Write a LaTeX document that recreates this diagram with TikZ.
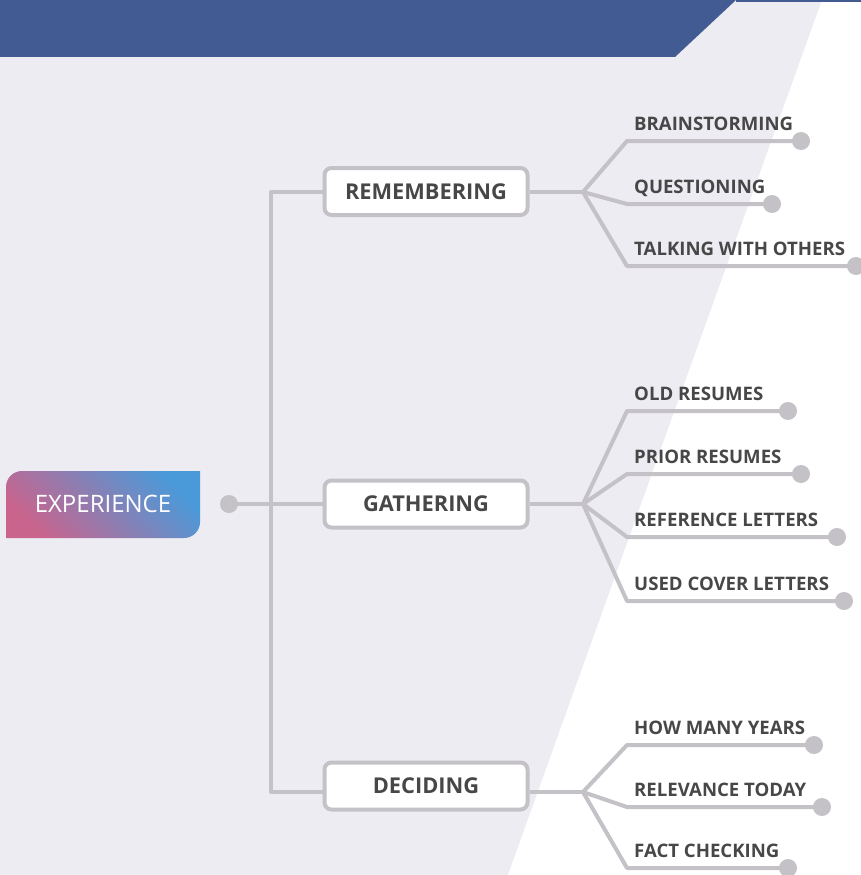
\documentclass[tikz,border=0pt]{standalone}
\usepackage{fontspec}
\setmainfont{Open Sans}
\definecolor{bandblue}{HTML}{425B93}
\definecolor{bglight}{HTML}{ECECF2}
\definecolor{linegray}{HTML}{C4C2C7}
\definecolor{txtgray}{HTML}{474747}
\definecolor{gpink}{HTML}{C9648D}
\definecolor{gblue}{HTML}{4A9ADA}
\tikzset{
  conn/.style={draw=linegray, line width=4pt, line join=round},
  dotnode/.style={circle, fill=linegray, inner sep=0pt, minimum size=18pt},
  boxnode/.style={draw=linegray, line width=4pt, fill=white, rounded corners=7pt,
    minimum width=203pt, minimum height=47pt, inner sep=0pt,
    font=\fontsize{21.8}{24}\selectfont\bfseries, text=txtgray},
  lbl/.style={anchor=base west, inner sep=0pt, text=txtgray,
    font=\fontsize{18.6}{20}\selectfont\bfseries}
}
\begin{document}
\begin{tikzpicture}[x=1pt,y=-1pt]
\useasboundingbox (0,0) rectangle (861,875);
% background
\fill[bglight] (0,0) rectangle (861,875);
\fill[white] (822,0) -- (861,0) -- (861,875) -- (508,875) -- cycle;
\fill[bandblue] (0,0) -- (736,0) -- (675,57) -- (0,57) -- cycle;
\fill[bandblue] (736,0) rectangle (861,2);
% experience
\shade[shading=axis, bottom color=gpink, top color=gblue, shading angle=-45]
  (6,538) -- (6,487) arc[start angle=180, end angle=270, radius=16]
  -- (200,471) -- (200,522) arc[start angle=0, end angle=90, radius=16] -- cycle;
\node[text=white, font=\fontsize{24}{28}\selectfont, inner sep=0pt] (exp) at (103,504) {EXPERIENCE};
% main boxes
\node[boxnode] (rem) at (426,191.5) {REMEMBERING};
\node[boxnode] (gat) at (426,504) {GATHERING};
\node[boxnode] (dec) at (426,786) {DECIDING};
\coordinate (tt) at (271,192);
\coordinate (tb) at (271,792);
\coordinate (f1) at (583,192);
\coordinate (f2) at (583,504);
\coordinate (f3) at (583,792);
% branch knees
\coordinate (k11) at (627,141);
\coordinate (k12) at (627,204);
\coordinate (k13) at (627,266);
\coordinate (k21) at (627,411);
\coordinate (k22) at (627,474);
\coordinate (k23) at (627,537);
\coordinate (k24) at (627,601);
\coordinate (k31) at (627,745);
\coordinate (k32) at (627,807);
\coordinate (k33) at (627,868);
% connectors
\node[dotnode] (dexp) at (229,504) {};
\draw[conn] (dexp.center) -- (gat.west);
\draw[conn] (rem.west |- tt) -- (tt) -- (tb) -- (dec.west |- tb);
\draw[conn] (rem.east |- f1) -- (f1);
\draw[conn] (gat.east) -- (f2);
\draw[conn] (dec.east |- f3) -- (f3);
\foreach \f/\k/\x in {f1/k11/801, f1/k12/772, f1/k13/856,
                      f2/k21/788, f2/k22/801, f2/k23/837, f2/k24/844,
                      f3/k31/814, f3/k32/822, f3/k33/788}{
  \draw[conn] (\f) -- (\k) -- (\k -| \x,0);
}
\node[dotnode] (d11) at (801,141) {};
\node[dotnode] (d12) at (772,204) {};
\node[dotnode] (d13) at (856,266) {};
\node[dotnode] (d21) at (788,411) {};
\node[dotnode] (d22) at (801,474) {};
\node[dotnode] (d23) at (837,537) {};
\node[dotnode] (d24) at (844,601) {};
\node[dotnode] (d31) at (814,745) {};
\node[dotnode] (d32) at (822,807) {};
\node[dotnode] (d33) at (788,868) {};
% labels
\node[lbl] (t11) at (634,130) {BRAINSTORMING};
\node[lbl] (t12) at (634,193) {QUESTIONING};
\node[lbl] (t13) at (634,255) {TALKING WITH OTHERS};
\node[lbl] (t21) at (634,400) {OLD RESUMES};
\node[lbl] (t22) at (634,463) {PRIOR RESUMES};
\node[lbl] (t23) at (634,526) {REFERENCE LETTERS};
\node[lbl] (t24) at (634,590) {USED COVER LETTERS};
\node[lbl] (t31) at (634,734) {HOW MANY YEARS};
\node[lbl] (t32) at (634,796) {RELEVANCE TODAY};
\node[lbl] (t33) at (634,857) {FACT CHECKING};
\end{tikzpicture}
\end{document}
